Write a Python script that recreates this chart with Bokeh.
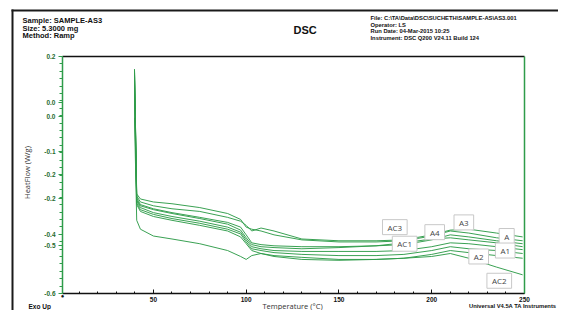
from bokeh.plotting import figure
from bokeh.models import Range1d, FixedTicker, LinearAxis, Label, BoxAnnotation
from bokeh.embed import file_html
from bokeh.resources import INLINE

# ---------------- data ----------------
temperature = [39.8, 41, 43, 50, 60, 75, 90, 97, 100, 103, 108, 115, 130, 150, 170, 185, 200, 210, 220, 235, 249]

heat_A   = [0.157, -0.271, -0.291, -0.304, -0.314, -0.323, -0.343, -0.356, -0.370, -0.389, -0.379, -0.389, -0.416, -0.422, -0.422, -0.419, -0.402, -0.386, -0.383, -0.396, -0.409]
heat_A3  = [0.157, -0.264, -0.281, -0.291, -0.297, -0.310, -0.330, -0.350, -0.376, -0.383, -0.389, -0.402, -0.419, -0.426, -0.426, -0.422, -0.406, -0.389, -0.396, -0.412, -0.422]
heat_A4  = [0.151, -0.277, -0.300, -0.314, -0.327, -0.343, -0.360, -0.376, -0.402, -0.429, -0.435, -0.439, -0.442, -0.442, -0.439, -0.435, -0.419, -0.402, -0.409, -0.422, -0.432]
heat_AC3 = [0.141, -0.284, -0.304, -0.317, -0.330, -0.347, -0.366, -0.386, -0.412, -0.435, -0.442, -0.445, -0.449, -0.445, -0.439, -0.429, -0.416, -0.412, -0.419, -0.429, -0.442]
heat_AC1 = [0.124, -0.287, -0.310, -0.327, -0.340, -0.356, -0.376, -0.393, -0.419, -0.442, -0.449, -0.455, -0.458, -0.458, -0.458, -0.455, -0.442, -0.429, -0.432, -0.442, -0.452]
heat_A1  = [0.091, -0.294, -0.317, -0.333, -0.347, -0.363, -0.383, -0.399, -0.426, -0.449, -0.455, -0.462, -0.468, -0.472, -0.472, -0.468, -0.455, -0.442, -0.449, -0.455, -0.465]
heat_A2  = [0.058, -0.300, -0.323, -0.340, -0.353, -0.370, -0.389, -0.409, -0.432, -0.455, -0.465, -0.472, -0.478, -0.485, -0.485, -0.481, -0.468, -0.455, -0.462, -0.472, -0.481]
heat_AC2 = [-0.007, -0.353, -0.383, -0.406, -0.416, -0.432, -0.455, -0.475, -0.485, -0.472, -0.465, -0.475, -0.485, -0.488, -0.485, -0.481, -0.475, -0.465, -0.481, -0.511, -0.537]

series = [heat_A, heat_A3, heat_A4, heat_AC3, heat_AC1, heat_A1, heat_A2, heat_AC2]

curve_labels = ["AC3", "A4", "A3", "A", "AC1", "A1", "A2", "AC2"]
curve_label_T = [180.1, 201.6, 217.3, 240.4, 185.4, 239.6, 225.3, 236.4]
curve_label_val = [-0.376, -0.393, -0.360, -0.406, -0.432, -0.455, -0.475, -0.557]

x_ticks = [50, 100, 150, 200, 250]
x_tick_labels = ["50", "100", "150", "200", "250"]
y_ticks = [0.2, 0.045, -0.001, -0.119, -0.198, -0.281, -0.402, -0.439, -0.6]
y_tick_labels = ["0.2", "0.0", "0.0", "-0.1", "-0.2", "-0.2", "-0.4", "-0.5", "-0.6"]

header_left = ["Sample: SAMPLE-AS3", "Size: 5.3000 mg", "Method: Ramp"]
header_right = ["File: C:\\TA\\Data\\DSC\\SUCHETH\\SAMPLE-AS\\AS3.001",
                "Operator: LS",
                "Run Date: 04-Mar-2015 10:25",
                "Instrument: DSC Q200 V24.11 Build 124"]

# ---------------- layout geometry (pixels) ----------------
W, H = 558, 310
PL, PR, PT, PB = 62, 524, 56, 293   # plot box in canvas pixels
T0, T1, V0, V1 = 1, 250, -0.6, 0.2  # plot box in data units
kx = (PR - PL) / (T1 - T0)
ky = (PB - PT) / (V1 - V0)

GREEN = "#2f9c4a"
FONT = "Liberation Sans"

p = figure(width=W, height=H,
           x_range=Range1d(T0 - PL / kx, T1 + (W - PR) / kx),
           y_range=Range1d(V0 - (H - PB) / ky, V1 + PT / ky),
           output_backend="svg", toolbar_location=None,
           min_border_left=0, min_border_right=0, min_border_top=0, min_border_bottom=0)
p.outline_line_color = None
p.grid.visible = False
p.background_fill_color = "white"
p.border_fill_color = "white"

for ys in series:
    p.line(temperature, ys, line_color=GREEN, line_width=1, line_alpha=0.95)

# bottom axis
xa = p.xaxis[0]
xa.fixed_location = V0
xa.bounds = (T0, T1)
xa.ticker = FixedTicker(ticks=x_ticks, minor_ticks=list(range(10, 251, 10)))
xa.major_label_overrides = {t: l for t, l in zip(x_ticks, x_tick_labels)}
xa.axis_line_color = "#111111"
xa.axis_line_width = 1.5
xa.major_tick_in = 4
xa.major_tick_out = 0
xa.minor_tick_in = 2
xa.minor_tick_out = 0
xa.major_tick_line_color = "#111111"
xa.minor_tick_line_color = "#111111"
xa.major_label_standoff = 3
xa.major_label_text_font = FONT
xa.major_label_text_font_style = "bold"
xa.major_label_text_font_size = "6.5px"
xa.major_label_text_color = "#111111"

# left axis
ya = p.yaxis[0]
ya.fixed_location = T0
ya.bounds = (V0, V1)
ya.ticker = FixedTicker(ticks=y_ticks, minor_ticks=[V0 + 0.025 * i for i in range(33)])
ya.major_label_overrides = {t: l for t, l in zip(y_ticks, y_tick_labels)}
ya.axis_line_color = GREEN
ya.axis_line_width = 1.5
ya.major_tick_in = 0
ya.major_tick_out = 4
ya.minor_tick_in = 0
ya.minor_tick_out = 3
ya.major_tick_line_color = GREEN
ya.minor_tick_line_color = GREEN
ya.major_label_standoff = 3
ya.major_label_text_font = FONT
ya.major_label_text_font_style = "bold"
ya.major_label_text_font_size = "6.5px"
ya.major_label_text_color = "#1f6b2e"

# top & right frame lines
top_axis = LinearAxis(ticker=FixedTicker(ticks=[]), fixed_location=V1, bounds=(T0, T1),
                      axis_line_color="#111111", axis_line_width=1.5,
                      major_tick_in=0, major_tick_out=0, minor_tick_in=0, minor_tick_out=0,
                      major_label_text_font_size="0px")
right_axis = LinearAxis(ticker=FixedTicker(ticks=[]), fixed_location=T1, bounds=(V0, V1),
                        axis_line_color=GREEN, axis_line_width=1.5,
                        major_tick_in=0, major_tick_out=0, minor_tick_in=0, minor_tick_out=0,
                        major_label_text_font_size="0px")
p.add_layout(top_axis, "above")
p.add_layout(right_axis, "right")

# curve labels
for t, v, txt in zip(curve_label_T, curve_label_val, curve_labels):
    p.add_layout(Label(x=t, y=v, text=txt, text_align="center", text_baseline="middle",
                       text_font="Open Sans", text_font_size="8px", text_color="#444444",
                       background_fill_color="white", border_line_color="#c8c8c8",
                       border_line_width=1, padding=(5, 2)))


# ---------------- page decorations (screen units; frame == canvas) ----------------
def txt(px, py, text, size, bold=True, align="left", color="#111111", angle=0, font=FONT):
    p.add_layout(Label(x=px, y=H - py, x_units="screen", y_units="screen", text=text,
                       text_align=align, text_baseline="middle", text_font=font,
                       text_font_size=size, text_font_style="bold" if bold else "normal",
                       text_color=color, angle=angle))


for i, s in enumerate(header_left):
    txt(22, 20 + 7.5 * i, s, "7.5px")
txt(293, 29, "DSC", "11px")
for i, s in enumerate(header_right):
    txt(370, 17.5 + 6.7 * i, s, "5.8px")

txt(28, 305.5, "Exo Up", "6.5px")
txt(292, 305.5, "Temperature (\u00b0C)", "7.5px", bold=False, align="center", color="#333333", font="Open Sans")
txt(556, 305, "Universal V4.5A TA Instruments", "5.8px", align="right")
txt(26, 172, "HeatFlow (W/g)", "7.5px", bold=False, align="center", color="#333333",
    angle=1.5707963, font="Open Sans")
txt(62, 295.5, "\u25cf", "6px", align="center")

# outer frame (top and left lines)
p.add_layout(BoxAnnotation(left=11, right=W, top=H - 9, bottom=H - 11,
                           left_units="screen", right_units="screen", top_units="screen",
                           bottom_units="screen", fill_color="#1a1a1a", fill_alpha=1, line_color=None))
p.add_layout(BoxAnnotation(left=11, right=13, top=H - 9, bottom=0,
                           left_units="screen", right_units="screen", top_units="screen",
                           bottom_units="screen", fill_color="#1a1a1a", fill_alpha=1, line_color=None))

open("out.html", "w").write(file_html(p, INLINE))
